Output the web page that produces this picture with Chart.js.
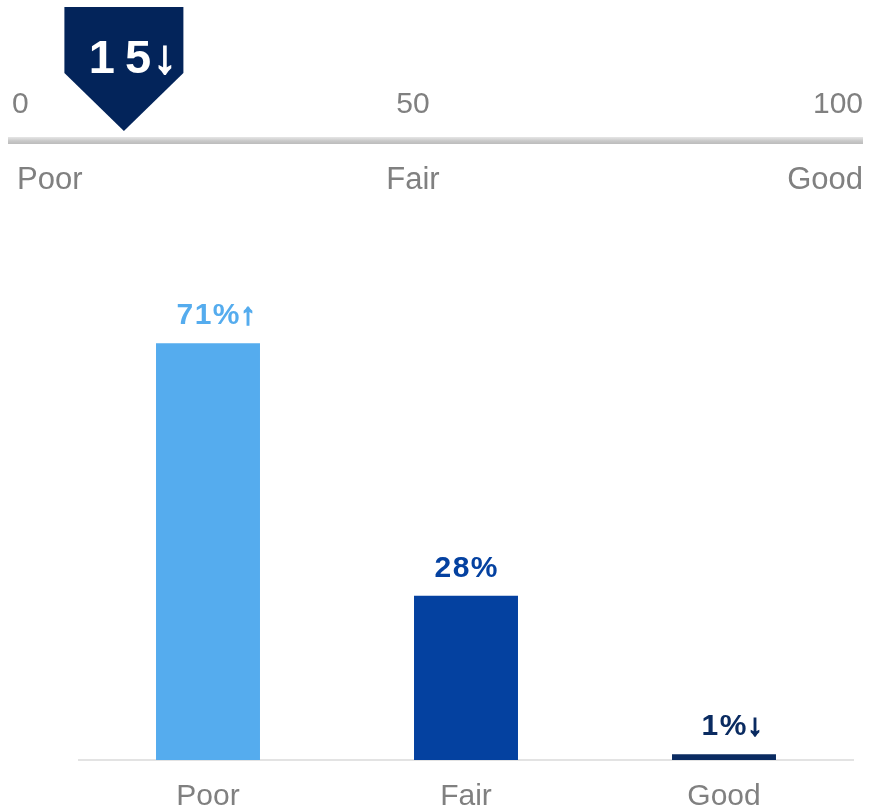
<!DOCTYPE html>
<html>
<head>
<meta charset="utf-8">
<script src="https://cdn.jsdelivr.net/npm/chart.js@4.4.1/dist/chart.umd.min.js"></script>
<style>
  html, body { margin: 0; padding: 0; background: #ffffff; }
  #wrap { position: relative; width: 873px; height: 808px; overflow: hidden; }
  #bars, #gauge { position: absolute; left: 0; top: 0; }
</style>
</head>
<body>
<div id="wrap">
  <canvas id="bars" width="873" height="808"></canvas>
  <canvas id="gauge" width="873" height="200"></canvas>
</div>
<script>
// Overall score shown on the gauge
const gaugeScore = 15;
const gaugeTrend = '↓';
const gaugeTicks = [0, 50, 100];
const gaugeBands = ['Poor', 'Fair', 'Good'];

// Distribution of ratings
const categories = ['Poor', 'Fair', 'Good'];
const shares = [71, 28, 1];
const shareTrends = ['↑', '', '↓'];
const barColors = ['#55ACEE', '#0441A0', '#0A2B61'];

const FONT = "'Liberation Sans', Arial, sans-serif";
const GREY = '#808080';
const NAVY = '#03245A';

// Draws text centred on cx followed by a trend arrow, the arrow thickened a little
function drawWithArrow(ctx, txt, arrow, cx, y, spacing, gap, color) {
  ctx.fillStyle = color;
  ctx.strokeStyle = color;
  ctx.letterSpacing = spacing + 'px';
  const w = ctx.measureText(txt).width - spacing;   // drop trailing spacing
  const x0 = cx - w / 2;
  ctx.textAlign = 'left';
  ctx.fillText(txt, x0, y);
  if (arrow) {
    ctx.letterSpacing = '0px';
    ctx.lineWidth = 1.6;
    ctx.fillText(arrow, x0 + w + gap, y);
    ctx.strokeText(arrow, x0 + w + gap, y);
  }
  ctx.letterSpacing = '0px';
}

// Draws the track, its labels and the pointer for the score gauge
const gaugePlugin = {
  id: 'gaugeDecor',
  afterDraw(chart) {
    const ctx = chart.ctx;
    const xs = chart.scales.x;
    const W = chart.width;
    const trackL = 8, trackR = W - 10, trackY = 141;

    ctx.save();
    // track
    const g = ctx.createLinearGradient(0, trackY - 4, 0, trackY + 4);
    g.addColorStop(0, '#e6e6e6');
    g.addColorStop(0.5, '#c8c8c8');
    g.addColorStop(1, '#b8b8b8');
    ctx.fillStyle = g;
    ctx.fillRect(trackL, trackY - 4, trackR - trackL, 7);

    // tick values and band names
    ctx.fillStyle = GREY;
    ctx.textBaseline = 'alphabetic';
    const place = (txt, i, n, y, inset, value) => {
      if (i === 0) { ctx.textAlign = 'left'; ctx.fillText(txt, trackL + inset, y); }
      else if (i === n - 1) { ctx.textAlign = 'right'; ctx.fillText(txt, trackR, y); }
      else { ctx.textAlign = 'center'; ctx.fillText(txt, xs.getPixelForValue(value), y); }
    };
    ctx.font = `30px ${FONT}`;
    gaugeTicks.forEach((t, i) => place(String(t), i, gaugeTicks.length, 113, 4, t));
    ctx.font = `31px ${FONT}`;
    gaugeBands.forEach((b, i) => place(b, i, gaugeBands.length, 189, 9, gaugeTicks[i]));

    // pointer
    const pt = chart.getDatasetMeta(0).data[0];
    const cx = pt.x, half = 59.5;
    ctx.fillStyle = NAVY;
    ctx.beginPath();
    ctx.moveTo(cx - half, 7);
    ctx.lineTo(cx + half, 7);
    ctx.lineTo(cx + half, 73);
    ctx.lineTo(cx, 131);
    ctx.lineTo(cx - half, 73);
    ctx.closePath();
    ctx.fill();

    ctx.font = `bold 47px ${FONT}`;
    drawWithArrow(ctx, String(gaugeScore), gaugeTrend, cx - 4, 73, 10, 2, '#ffffff');
    ctx.restore();
  }
};

new Chart(document.getElementById('gauge'), {
  type: 'scatter',
  data: { datasets: [{ data: [{ x: gaugeScore, y: 0 }], pointRadius: 0 }] },
  options: {
    responsive: false,
    animation: false,
    layout: { padding: { left: 0, right: 47, top: 0, bottom: 0 } },
    plugins: { legend: { display: false }, tooltip: { enabled: false } },
    scales: {
      x: { type: 'linear', min: 0, max: 100, display: false },
      y: { min: -1, max: 1, display: false }
    }
  },
  plugins: [gaugePlugin]
});

// Value labels above each bar
const barLabels = {
  id: 'barLabels',
  afterDatasetsDraw(chart) {
    const ctx = chart.ctx;
    const meta = chart.getDatasetMeta(0);
    ctx.save();
    ctx.font = `bold 30px ${FONT}`;
    ctx.textBaseline = 'alphabetic';
    meta.data.forEach((bar, i) => {
      drawWithArrow(ctx, shares[i] + '%', shareTrends[i], bar.x, bar.y - 19, 1.5, 1, barColors[i]);
    });
    ctx.restore();
  }
};

new Chart(document.getElementById('bars'), {
  type: 'bar',
  data: {
    labels: categories,
    datasets: [{
      data: shares,
      backgroundColor: barColors,
      categoryPercentage: 1,
      barPercentage: 0.403
    }]
  },
  options: {
    responsive: false,
    animation: false,
    layout: { padding: { left: 79, right: 20, top: 173, bottom: 0 } },
    plugins: { legend: { display: false }, tooltip: { enabled: false } },
    scales: {
      x: {
        grid: { display: false, drawTicks: false },
        border: { color: '#e3e3e3', width: 2 },
        ticks: { color: GREY, font: { family: FONT, size: 30 }, padding: 19 },
        afterFit(scale) { scale.height = 48; }
      },
      y: { display: false, min: 0, max: 100 }
    }
  },
  plugins: [barLabels]
});
</script>
</body>
</html>
